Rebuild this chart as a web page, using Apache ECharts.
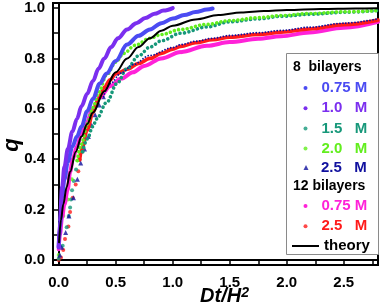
<!DOCTYPE html>
<html><head><meta charset="utf-8">
<script src="https://cdn.jsdelivr.net/npm/echarts@6/dist/echarts.min.js"></script>
<style>html,body{margin:0;padding:0;background:#fff}#c{width:382px;height:306px}</style>
</head><body><div id="c"></div>
<script>
const FONT = '"Liberation Sans", Arial, sans-serif';

// axis ticks
const xTicks = [0, 0.25, 0.5, 0.75, 1, 1.25, 1.5, 1.75, 2, 2.25, 2.5, 2.75];
const xTickLabels = [0, 0.5, 1, 1.5, 2, 2.5];
const yTicks = [0, 0.1, 0.2, 0.3, 0.4, 0.5, 0.6, 0.7, 0.8, 0.9, 1.0];
const yTickLabels = [0, 0.2, 0.4, 0.6, 0.8, 1.0];

// 8 bilayers, 1.0 M
const x8_10 = [0, 0.01, 0.03, 0.05, 0.08, 0.12, 0.16, 0.2, 0.25, 0.3, 0.35, 0.4, 0.46, 0.52, 0.6, 0.68, 0.76, 0.84, 0.92, 1.0];
const q8_10 = [0.05, 0.15, 0.29, 0.37, 0.44, 0.51, 0.56, 0.61, 0.66, 0.71, 0.76, 0.80, 0.845, 0.88, 0.915, 0.94, 0.96, 0.977, 0.99, 1.0];
// 8 bilayers, 0.75 M
const x8_075 = [0, 0.01, 0.03, 0.05, 0.08, 0.12, 0.16, 0.2, 0.25, 0.3, 0.36, 0.42, 0.5, 0.6, 0.7, 0.8, 0.9, 1.0, 1.1, 1.2, 1.3, 1.35];
const q8_075 = [0.05, 0.13, 0.25, 0.32, 0.39, 0.45, 0.49, 0.53, 0.59, 0.64, 0.70, 0.74, 0.79, 0.855, 0.89, 0.915, 0.94, 0.958, 0.972, 0.984, 0.994, 0.998];
// 8 bilayers, 1.5 M
const x8_15 = [0.0, 0.035, 0.07, 0.088, 0.1, 0.108, 0.117, 0.132, 0.152, 0.181, 0.21, 0.25, 0.3, 0.333, 0.42, 0.51, 0.6, 0.7, 0.8, 0.9, 1.07, 1.3, 1.5, 1.75, 1.95, 2.2, 2.5, 2.8];
const q8_15 = [0.005, 0.056, 0.13, 0.175, 0.208, 0.24, 0.277, 0.313, 0.359, 0.398, 0.43, 0.48, 0.53, 0.56, 0.625, 0.70, 0.76, 0.81, 0.845, 0.87, 0.90, 0.925, 0.945, 0.957, 0.967, 0.975, 0.983, 0.99];
// 8 bilayers, 2.0 M
const x8_20 = [0.0, 0.04, 0.08, 0.115, 0.163, 0.2, 0.25, 0.3, 0.35, 0.42, 0.5, 0.57, 0.67, 0.8, 0.9, 1.07, 1.3, 1.5, 1.75, 1.95, 2.2, 2.5, 2.8];
const q8_20 = [0.02, 0.175, 0.24, 0.32, 0.395, 0.46, 0.54, 0.605, 0.665, 0.735, 0.785, 0.82, 0.852, 0.88, 0.895, 0.915, 0.935, 0.95, 0.962, 0.97, 0.978, 0.985, 0.99];
// 8 bilayers, 2.5 M
const x8_25 = [0.01, 0.026, 0.061, 0.09, 0.129, 0.164, 0.193, 0.226, 0.26, 0.29, 0.319, 0.355, 0.392, 0.45, 0.55, 0.65, 0.8, 1.0, 1.07, 1.2, 1.35, 1.5, 1.75, 1.95, 2.2, 2.5, 2.8];
const q8_25 = [0.02, 0.05, 0.109, 0.175, 0.247, 0.32, 0.385, 0.44, 0.49, 0.535, 0.576, 0.615, 0.648, 0.70, 0.742, 0.775, 0.812, 0.843, 0.855, 0.868, 0.88, 0.891, 0.902, 0.911, 0.924, 0.94, 0.957];
// 12 bilayers, 0.75 M
const x12_075 = [0.0, 0.01, 0.03, 0.05, 0.079, 0.1, 0.123, 0.16, 0.2, 0.24, 0.3, 0.36, 0.45, 0.55, 0.65, 0.75, 0.9, 1.07, 1.3, 1.5, 1.75, 1.95, 2.2, 2.5, 2.8];
const q12_075 = [0.043, 0.1, 0.17, 0.22, 0.28, 0.35, 0.40, 0.45, 0.50, 0.54, 0.60, 0.645, 0.69, 0.72, 0.745, 0.77, 0.80, 0.825, 0.85, 0.865, 0.878, 0.888, 0.903, 0.922, 0.945];
// 12 bilayers, 2.5 M
const x12_25 = [0.0, 0.02, 0.04, 0.055, 0.085, 0.1, 0.123, 0.149, 0.172, 0.184, 0.2, 0.25, 0.3, 0.35, 0.4, 0.45, 0.5, 0.6, 0.7, 0.8, 0.9, 1.0, 1.07, 1.2, 1.35, 1.5, 1.75, 1.95, 2.2, 2.5, 2.8];
const q12_25 = [0.0, 0.01, 0.04, 0.083, 0.133, 0.19, 0.247, 0.30, 0.352, 0.398, 0.435, 0.515, 0.585, 0.64, 0.685, 0.715, 0.738, 0.757, 0.78, 0.80, 0.82, 0.837, 0.848, 0.862, 0.874, 0.884, 0.895, 0.904, 0.917, 0.934, 0.952];
// theory
const xTheory = [0.003, 0.02, 0.04, 0.07, 0.1, 0.15, 0.2, 0.25, 0.3, 0.4, 0.5, 0.6, 0.7, 0.8, 0.9, 1.0, 1.2, 1.4, 1.6, 1.8, 2.0, 2.3, 2.6, 2.8];
const qTheory = [0.07, 0.16, 0.22, 0.29, 0.35, 0.43, 0.49, 0.54, 0.585, 0.67, 0.745, 0.80, 0.845, 0.88, 0.91, 0.93, 0.955, 0.972, 0.982, 0.988, 0.992, 0.996, 0.998, 0.999];

const C = {
  b075: '#4b4bf2', b10: '#7b2fef', b15: '#17987a', b20: '#62ee1e', b25: '#10109e',
  m075: '#ff22d8', r25: '#ff1a1a', th: '#000000'
};
const NAMES = {
  '8b 0.75': '0.75 M', '8b 1.0': '1.0   M', '8b 1.5': '1.5   M', '8b 2.0': '2.0   M', '8b 2.5': '2.5   M',
  '12b 0.75': '0.75 M', '12b 2.5': '2.5   M', 'theory': 'theory'
};

function pts(xs, qs, lo, hi) {
  return xs.map((x, i) => [x, qs[i]]).filter(p => p[0] >= lo && p[0] <= hi);
}
function lineS(name, color, data, width, dash) {
  return {
    type: 'line', name, data, showSymbol: false, smooth: 0.35, smoothMonotone: 'x',
    itemStyle: { color },
    lineStyle: dash ? { color, width, type: dash, cap: 'round' } : { color, width, cap: 'round' },
    silent: true
  };
}
function dotS(name, color, data, size, symbol) {
  return { type: 'scatter', name, data, symbol: symbol || 'circle', symbolSize: size, itemStyle: { color }, silent: true };
}

const chart = echarts.init(document.getElementById('c'), null, { renderer: 'canvas' });
const lblStyle = { fontFamily: FONT, fontWeight: 'bold', fontSize: 15, color: '#000' };
const legendBase = {
  orient: 'vertical', itemWidth: 22, itemHeight: 4, itemGap: 4.2, selectedMode: false, padding: 0,
  symbolKeepAspect: true, formatter: n => NAMES[n],
  itemStyle: { borderWidth: 0 },
  textStyle: { fontFamily: FONT, fontWeight: 'bold', fontSize: 15, lineHeight: 16 }
};
chart.setOption({
  animation: false,
  grid: { left: 53, right: 4, top: 3, bottom: 41, outerBoundsMode: 'none', containLabel: false,
          show: true, borderColor: '#000', borderWidth: 2, backgroundColor: 'transparent' },
  xAxis: {
    type: 'value', min: -0.05, max: 2.8,
    name: 'Dt/H{s|2}', nameLocation: 'middle', nameGap: 21, nameMoveOverlap: false,
    nameTextStyle: {
      fontFamily: FONT, fontWeight: 'bold', fontStyle: 'italic', fontSize: 20, color: '#000', padding: [0, 0, 0, 18],
      rich: { s: { fontFamily: FONT, fontWeight: 'bold', fontStyle: 'italic', fontSize: 14, verticalAlign: 'top' } }
    },
    axisLine: { show: true, lineStyle: { color: '#000', width: 2 } },
    axisTick: { show: true, inside: false, length: 5, lineStyle: { color: '#000', width: 1.5 }, customValues: xTicks },
    axisLabel: Object.assign({ margin: 10, customValues: xTickLabels, formatter: v => v.toFixed(1) }, lblStyle),
    splitLine: { show: false }
  },
  yAxis: {
    type: 'value', min: -0.02, max: 1.02,
    name: 'q', nameLocation: 'middle', nameGap: 30, nameRotate: 90, nameMoveOverlap: false,
    nameTextStyle: { fontFamily: FONT, fontWeight: 'bold', fontStyle: 'italic', fontSize: 22, color: '#000', padding: [0, 22, 0, 0] },
    axisLine: { show: true, lineStyle: { color: '#000', width: 2 } },
    axisTick: { show: true, inside: false, length: 5, lineStyle: { color: '#000', width: 1.5 }, customValues: yTicks },
    axisLabel: Object.assign({ margin: 8, customValues: yTickLabels, formatter: v => v.toFixed(1) }, lblStyle),
    splitLine: { show: false }
  },
  legend: [
    Object.assign({}, legendBase, { left: 303.5, top: 80, data: [
      { name: '8b 0.75', icon: 'circle', textStyle: { color: C.b075 } },
      { name: '8b 1.0', icon: 'circle', textStyle: { color: C.b10 } },
      { name: '8b 1.5', icon: 'circle', textStyle: { color: C.b15 } },
      { name: '8b 2.0', icon: 'circle', textStyle: { color: C.b20 } }
    ] }),
    Object.assign({}, legendBase, { left: 303.5, top: 159.5, itemWidth: 5, itemHeight: 5,
      textStyle: Object.assign({}, legendBase.textStyle, { padding: [0, 0, 0, 7.5] }), data: [
      { name: '8b 2.5', icon: 'triangle', textStyle: { color: C.b25 } }
    ] }),
    Object.assign({}, legendBase, { left: 303.5, top: 198, data: [
      { name: '12b 0.75', icon: 'circle', textStyle: { color: C.m075 } },
      { name: '12b 2.5', icon: 'circle', textStyle: { color: C.r25 } }
    ] }),
    Object.assign({}, legendBase, { left: 292, top: 238, itemWidth: 27, itemHeight: 2, symbolKeepAspect: false, data: [
      { name: 'theory', icon: 'rect', textStyle: { color: '#000' } }
    ] })
  ],
  graphic: [
    { type: 'rect', z: 3, shape: { x: 286.5, y: 53.5, width: 92, height: 201 }, style: { fill: '#fff', stroke: '#8a8a8a', lineWidth: 1 } },
    { type: 'text', z: 5, style: { text: '8  bilayers', x: 293, y: 67, font: 'bold 14px ' + FONT, fill: '#000', verticalAlign: 'middle' } },
    { type: 'text', z: 5, style: { text: '12 bilayers', x: 293, y: 186, font: 'bold 14px ' + FONT, fill: '#000', verticalAlign: 'middle' } }
  ],
  series: [
    lineS('12b 0.75', C.m075, pts(x12_075, q12_075, 0, 3), 4),
    dotS('12b 2.5', C.r25, pts(x12_25, q12_25, 0, 0.2), 4),
    lineS('12b 2.5', C.r25, pts(x12_25, q12_25, 0.184, 3), 3.6),
    dotS('8b 1.5', C.b15, pts(x8_15, q8_15, 0, 0.21), 4),
    lineS('8b 1.5', C.b15, pts(x8_15, q8_15, 0.21, 3), 3.6, [0.01, 4.5]),
    dotS('8b 2.0', C.b20, pts(x8_20, q8_20, 0, 0.163), 4),
    lineS('8b 2.0', C.b20, pts(x8_20, q8_20, 0.163, 3), 3.6, [0.01, 4.3]),
    dotS('8b 2.5', C.b25, pts(x8_25, q8_25, 0, 0.392), 5, 'triangle'),
    lineS('8b 2.5', C.b25, pts(x8_25, q8_25, 0.392, 3), 1.8, [0.01, 3]),
    lineS('8b 0.75', C.b075, pts(x8_075, q8_075, 0, 3), 4),
    lineS('8b 1.0', C.b10, pts(x8_10, q8_10, 0, 3), 4),
    lineS('theory', C.th, pts(xTheory, qTheory, 0, 3), 2)
  ]
});
</script>
</body></html>
